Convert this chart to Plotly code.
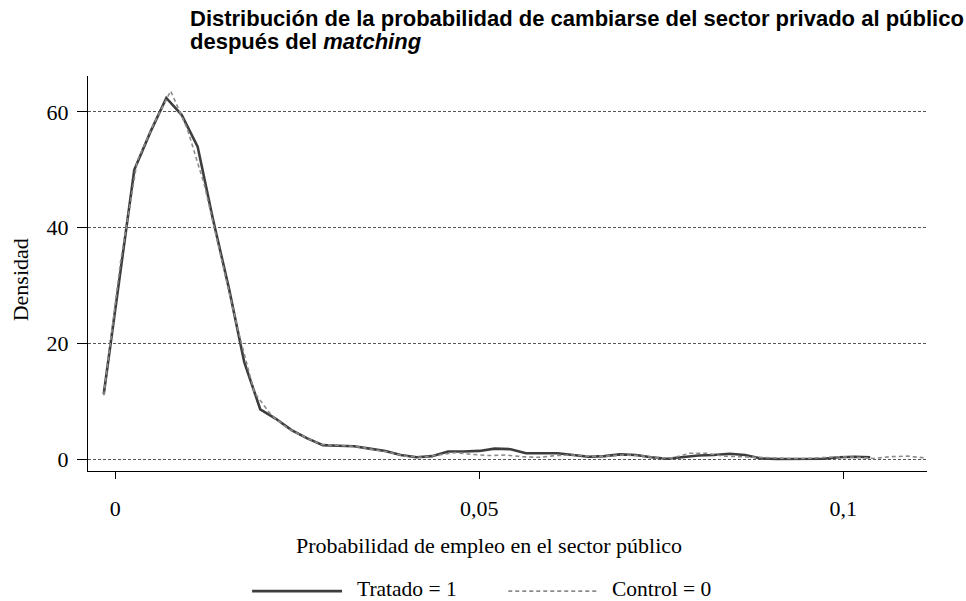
"""Densidad de la probabilidad de empleo público, tratados vs. controles."""

import plotly.graph_objects as go

# Series (kernel density evaluated on a grid)
tratado_x = [
    -0.0016, 0.0005, 0.0026, 0.0048, 0.0070, 0.0091, 0.0113, 0.0134, 0.0156, 0.0177,
    0.0199, 0.0220, 0.0242, 0.0263, 0.0285, 0.0306, 0.0328, 0.0349, 0.0371, 0.0392,
    0.0414, 0.0435, 0.0457, 0.0478, 0.0500, 0.0521, 0.0543, 0.0564, 0.0586, 0.0607,
    0.0629, 0.0650, 0.0672, 0.0693, 0.0715, 0.0736, 0.0758, 0.0779, 0.0801, 0.0822,
    0.0844, 0.0865, 0.0887, 0.0908, 0.0930, 0.0951, 0.0973, 0.0994, 0.1016, 0.1037,
]
tratado_y = [
    11.2, 31.0, 50.0, 56.5, 62.4, 59.5, 54.0, 41.5, 29.5, 16.8,
    8.6, 7.0, 5.0, 3.6, 2.4, 2.3, 2.2, 1.8, 1.4, 0.7,
    0.3, 0.5, 1.3, 1.3, 1.4, 1.8, 1.7, 1.0, 1.0, 1.0,
    0.7, 0.4, 0.5, 0.8, 0.7, 0.3, 0.05, 0.3, 0.6, 0.7,
    0.9, 0.7, 0.1, 0.0, 0.0, 0.0, 0.05, 0.3, 0.4, 0.3,
]
control_x = [
    -0.0016, 0.0007, 0.0030, 0.0053, 0.0076, 0.0099, 0.0122, 0.0145, 0.0168, 0.0191,
    0.0214, 0.0237, 0.0260, 0.0283, 0.0306, 0.0329, 0.0352, 0.0375, 0.0398, 0.0421,
    0.0444, 0.0467, 0.0490, 0.0513, 0.0536, 0.0559, 0.0582, 0.0605, 0.0628, 0.0651,
    0.0674, 0.0697, 0.0720, 0.0743, 0.0766, 0.0789, 0.0812, 0.0835, 0.0858, 0.0881,
    0.0904, 0.0927, 0.0950, 0.0973, 0.0996, 0.1019, 0.1042, 0.1065, 0.1088, 0.1111,
]
control_y = [
    11.0, 34.0, 51.5, 58.0, 63.6, 57.0, 47.5, 35.0, 22.5, 11.5,
    7.6, 5.3, 3.8, 2.5, 2.3, 2.2, 1.7, 1.2, 0.5, 0.3,
    0.7, 1.1, 0.8, 0.6, 0.7, 0.4, 0.3, 0.6, 0.7, 0.5,
    0.5, 0.7, 0.6, 0.2, 0.2, 1.0, 1.0, 0.5, 0.4, 0.3,
    0.1, 0.1, 0.1, 0.2, 0.4, 0.3, 0.1, 0.4, 0.5, 0.2,
]

# Labels
series_names = ["Tratado = 1", "Control = 0"]
x_tickvals = [0, 0.05, 0.1]
x_ticktext = ["0", "0,05", "0,1"]
y_tickvals = [0, 20, 40, 60]
y_ticktext = ["0", "20", "40", "60"]

TITLE_LINES = [
    "<b>Distribución de la probabilidad de cambiarse del sector privado al público</b>",
    "<b>después del <i>matching</i></b>",
]
XLABEL = "Probabilidad de empleo en el sector público"
YLABEL = "Densidad"

SERIF = "Liberation Serif, Times New Roman, serif"
SANS = "Liberation Sans, Arial, sans-serif"
SOLID = "#3d3d3d"
DASHED = "#8c8c8c"

fig = go.Figure()
fig.add_trace(go.Scatter(
    x=tratado_x, y=tratado_y, mode="lines", name=series_names[0],
    line=dict(color=SOLID, width=2.6),
))
fig.add_trace(go.Scatter(
    x=control_x, y=control_y, mode="lines", name=series_names[1],
    line=dict(color=DASHED, width=1.6, dash="4px,3px"),
))

# hand-made legend below the axis (long line samples like the original)
legend_y = -0.304
for i, (x0, x1, txt_x) in enumerate([(0.1956, 0.3028, 0.3186), (0.5009, 0.6081, 0.6224)]):
    fig.add_shape(
        type="line", xref="paper", yref="paper", x0=x0, x1=x1, y0=legend_y, y1=legend_y,
        line=dict(color=SOLID if i == 0 else DASHED, width=2.6 if i == 0 else 1.6,
                  dash="solid" if i == 0 else "4px,3px"),
    )
    fig.add_annotation(
        xref="paper", yref="paper", x=txt_x, y=legend_y + 0.006, text=series_names[i],
        showarrow=False, xanchor="left", yanchor="middle",
        font=dict(family=SERIF, size=21.5, color="#000"),
    )

# title, one annotation per line so the spacing is tight
for text, y in zip(TITLE_LINES, [1.1468, 1.0886]):
    fig.add_annotation(
        xref="paper", yref="paper", x=(188 - 87.5) / 839.5, y=y, text=text,
        showarrow=False, xanchor="left", yanchor="middle",
        font=dict(family=SANS, size=22, color="#000"),
    )

fig.add_annotation(
    xref="paper", yref="paper", x=0.478, y=-0.188, text=XLABEL, showarrow=False,
    xanchor="center", yanchor="middle", font=dict(family=SERIF, size=22, color="#000"),
)
fig.add_annotation(
    xref="paper", yref="paper", x=-0.080, y=0.485, text=YLABEL, showarrow=False,
    textangle=-90, xanchor="center", yanchor="middle",
    font=dict(family=SERIF, size=22, color="#000"),
)

fig.update_layout(
    width=966,
    height=601,
    plot_bgcolor="white",
    paper_bgcolor="white",
    showlegend=False,
    margin=dict(l=87.5, r=39, t=76, b=130, pad=0),
    xaxis=dict(
        range=[-0.00376, 0.1115],
        tickvals=x_tickvals, ticktext=x_ticktext,
        showgrid=False, zeroline=False,
        showline=True, linecolor="#000", linewidth=1.3,
        ticks="outside", ticklen=7, tickcolor="#000", tickwidth=1.3,
        ticklabelstandoff=10,
        tickfont=dict(family=SERIF, size=22, color="#000"),
    ),
    yaxis=dict(
        range=[-2.07, 66.2],
        tickvals=y_tickvals, ticktext=y_ticktext,
        showgrid=True, gridcolor="#555", gridwidth=1, griddash="3px,2px",
        zeroline=False,
        showline=True, linecolor="#000", linewidth=1.3,
        ticks="outside", ticklen=10, tickcolor="#000", tickwidth=1.3,
        ticklabelstandoff=4,
        tickfont=dict(family=SERIF, size=22, color="#000"),
    ),
)

# drop the default body margin so the figure sits at the page corner
fig.write_html(
    "out.html",
    config={"displayModeBar": False},
    post_script="document.body.style.margin = '0';",
)
